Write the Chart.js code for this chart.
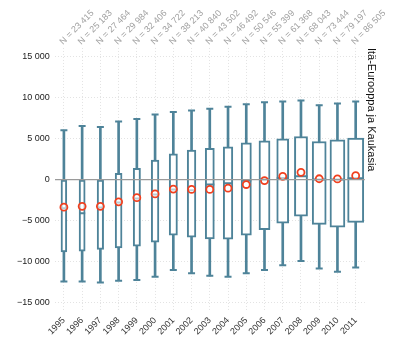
<!DOCTYPE html>
<html lang="fi">
<head>
  <meta charset="UTF-8" />
  <title>Itä-Eurooppa ja Kaukasia</title>
  <script src="https://cdn.jsdelivr.net/npm/chart.js"></script>
  <style>
    body {
      margin: 0;
      background: #fff;
    }
    #wrap {
      width: 400px;
      height: 350px;
    }
  </style>
</head>
<body>
  <div id="wrap">
    <canvas id="chart" width="400" height="350"></canvas>
  </div>

  <script>
    const years = ['1995', '1996', '1997', '1998', '1999', '2000', '2001', '2002', '2003',
                   '2004', '2005', '2006', '2007', '2008', '2009', '2010', '2011'];
    const nObs = [23415, 25183, 27464, 29984, 32406, 34722, 38213, 40840, 43502,
                  46492, 50546, 55399, 61368, 68043, 73444, 79197, 86505];

    const whiskerLow = [-12400, -12400, -12500, -12300, -12200, -11800, -11000, -11400, -11700,
                        -11800, -11400, -11000, -10400, -9900, -10800, -11200, -10700];
    const q1 = [-8800, -8700, -8500, -8300, -8100, -7600, -6750, -7000, -7200,
                -7250, -6750, -6100, -5300, -4450, -5450, -5800, -5200];
    const medians = [-3500, -4100, -3400, -2800, -2300, -1800, -1200, -1300, -600,
                     -450, -100, 0, 200, 400, 0, 0, 150];
    const q3 = [-50, -50, 0, 770, 1370, 2380, 3140, 3590, 3790,
                3990, 4470, 4720, 4960, 5240, 4630, 4840, 5040];
    const whiskerHigh = [6000, 6500, 6400, 7050, 7350, 7900, 8200, 8400, 8600,
                         8850, 9150, 9400, 9500, 9600, 9050, 9250, 9500];
    const means = [-3350, -3250, -3250, -2700, -2200, -1750, -1150, -1200, -1200,
                   -1050, -600, -120, 400, 880, 100, 80, 480];

    const yTicks = [-15000, -10000, -5000, 0, 5000, 10000, 15000];

    const boxColor = '#4e8399';
    const meanColor = '#f0401f';
    const font = "'Liberation Sans', Arial, sans-serif";

    function fmt(v) {
      const s = String(Math.abs(v)).replace(/\B(?=(\d{3})+(?!\d))/g, ' ');
      return v < 0 ? '\u2212' + s : s;
    }
    const nLabels = nObs.map(n => 'N = ' + fmt(n));

    // box width grows with the number of observations
    const boxWidth = n => 2 + n / 6100;

    // one floating bar per year so each box can have its own width
    const boxSets = years.map((y, i) => ({
      type: 'bar',
      data: years.map((_, j) => j === i ? [q1[i], q3[i]] : null),
      backgroundColor: '#ffffff',
      borderColor: boxColor,
      borderWidth: 2,
      borderSkipped: false,
      barThickness: boxWidth(nObs[i]),
      grouped: false,
      order: 5
    }));

    const datasets = [
      {
        type: 'bar',
        data: years.map((_, i) => [whiskerLow[i], whiskerHigh[i]]),
        backgroundColor: boxColor,
        borderWidth: 0,
        barThickness: 2,
        grouped: false,
        order: 10
      },
      ...boxSets,
      {
        type: 'line',
        data: whiskerLow,
        showLine: false,
        pointStyle: 'line',
        pointRadius: 3.5,
        borderColor: boxColor,
        borderWidth: 2,
        order: 4
      },
      {
        type: 'line',
        data: whiskerHigh,
        showLine: false,
        pointStyle: 'line',
        pointRadius: 3.5,
        borderColor: boxColor,
        borderWidth: 2,
        order: 4
      },
      {
        type: 'line',
        data: medians,
        showLine: false,
        pointStyle: 'line',
        pointRadius: nObs.map(n => boxWidth(n) / 2),
        borderColor: boxColor,
        borderWidth: 2,
        order: 3
      },
      {
        type: 'line',
        data: means,
        showLine: false,
        pointStyle: 'circle',
        pointRadius: 3.5,
        borderColor: meanColor,
        backgroundColor: 'rgba(255,255,255,0.6)',
        borderWidth: 1.8,
        order: 1
      }
    ];

    new Chart(document.getElementById('chart'), {
      type: 'bar',
      data: { labels: years, datasets: datasets },
      options: {
        responsive: false,
        animation: false,
        layout: { padding: { left: 12, right: 18, top: 7, bottom: 9 } },
        plugins: {
          legend: { display: false },
          tooltip: { enabled: false },
          title: {
            display: true,
            text: 'Itä-Eurooppa ja Kaukasia',
            position: 'right',
            align: 'start',
            fullSize: false,
            color: '#111',
            font: { family: font, size: 11, weight: 'normal' },
            padding: { top: 4, bottom: 0 }
          }
        },
        scales: {
          x: {
            offset: true,
            grid: {
              offset: false,
              color: '#e3e3e3',
              drawTicks: false
            },
            border: { display: false, dash: [1, 2] },
            ticks: {
              autoSkip: false,
              minRotation: 45,
              maxRotation: 45,
              padding: 4,
              color: '#333',
              font: { family: font, size: 9 }
            }
          },
          x2: {
            type: 'category',
            labels: nLabels,
            position: 'top',
            offset: true,
            grid: { display: false, drawTicks: false },
            border: { display: false },
            ticks: {
              autoSkip: false,
              minRotation: 45,
              maxRotation: 45,
              padding: 1,
              labelOffset: 5,
              color: '#a0a0a0',
              font: { family: font, size: 9 }
            }
          },
          y: {
            min: -16000,
            max: 16000,
            afterBuildTicks: axis => {
              axis.ticks = yTicks.map(v => ({ value: v }));
            },
            grid: {
              drawTicks: false,
              color: ctx => ctx.tick && ctx.tick.value === 0 ? 'rgba(0,0,0,0)' : '#e3e3e3'
            },
            border: { display: false, dash: [1, 2] },
            ticks: {
              padding: 5,
              color: '#222',
              font: { family: font, size: 9 },
              callback: v => fmt(v)
            }
          },
          // zero reference line, drawn above the boxes
          y0: {
            min: -16000,
            max: 16000,
            position: 'left',
            afterBuildTicks: axis => {
              axis.ticks = [{ value: 0 }];
            },
            grid: { drawTicks: false, color: '#9a9a9a', lineWidth: 1.2, z: 1 },
            border: { display: false },
            ticks: { display: false }
          }
        }
      }
    });
  </script>
</body>
</html>
